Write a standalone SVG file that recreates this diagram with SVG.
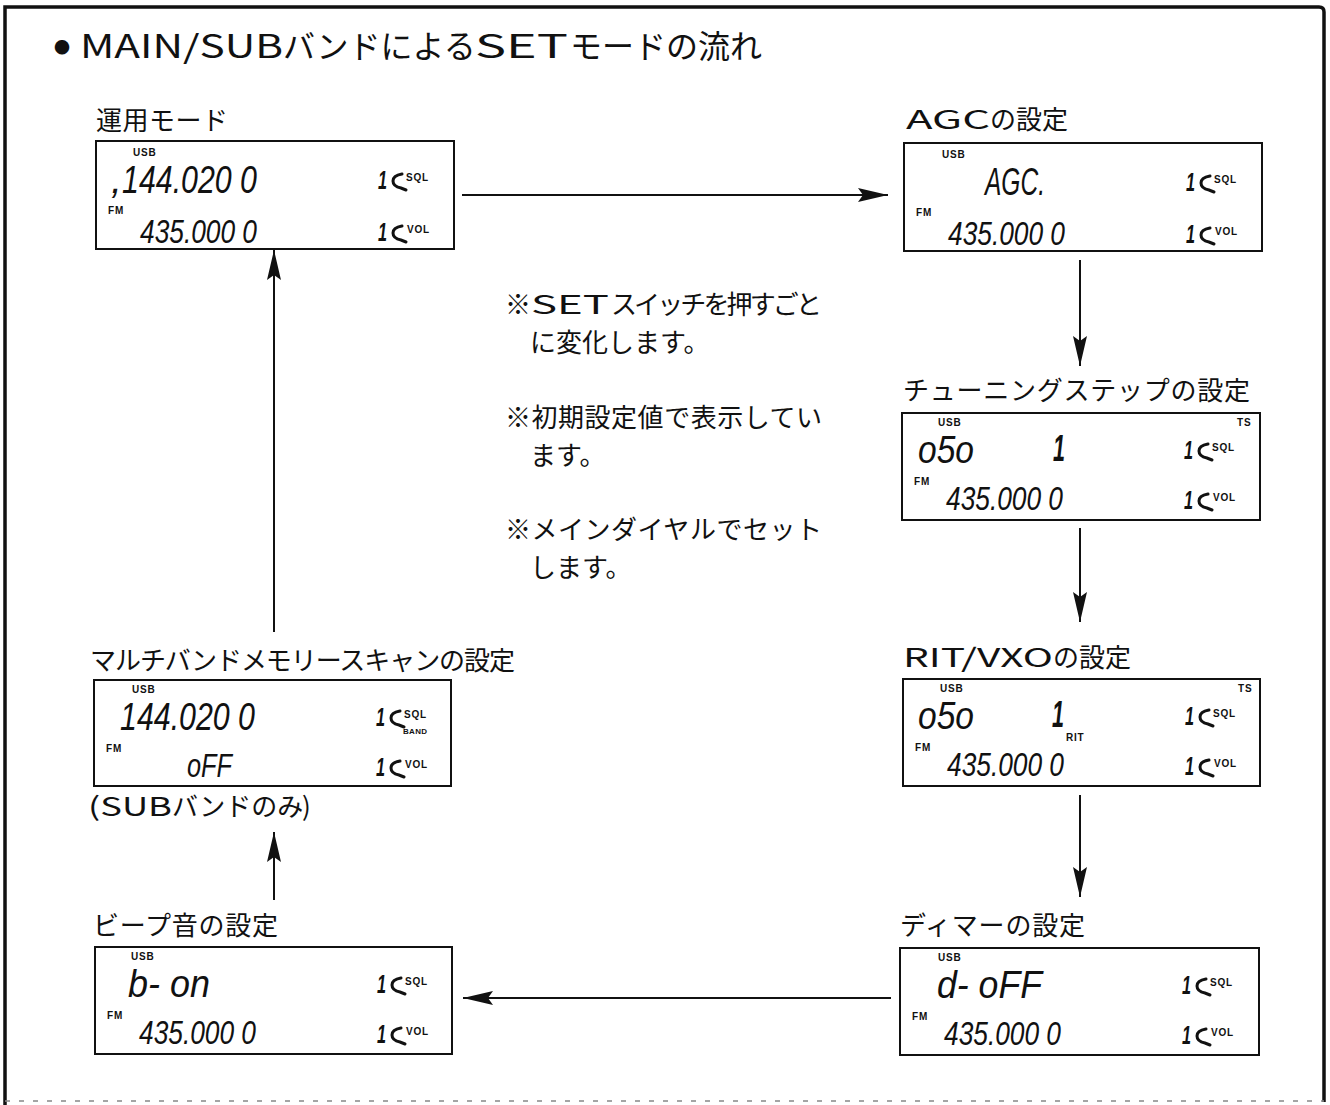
<svg xmlns="http://www.w3.org/2000/svg" width="1330" height="1105" viewBox="0 0 1330 1105">
<style>
.lbl{font-family:"Noto Sans CJK JP","Noto Sans",sans-serif;font-size:26px;fill:#111}
.ttl{font-family:"Noto Sans CJK JP","Noto Sans",sans-serif;font-size:32px;fill:#111}
.note{font-family:"Noto Sans CJK JP","Noto Sans",sans-serif;font-size:26px;fill:#111}
.seg{font-family:"Liberation Sans",Arial,sans-serif;font-style:italic;fill:#111}
.big{font-size:39px}
.mid{font-size:33px}
.one{font-size:25px;font-weight:bold}
.bone{font-size:36px;font-weight:bold}
.ind{font-family:"Liberation Sans",Arial,sans-serif;font-weight:bold;font-size:10px;letter-spacing:0.8px;fill:#111}
.lcd{fill:#fff;stroke:#111;stroke-width:2}
.knob{fill:none;stroke:#111;stroke-width:3;stroke-linecap:round}
.conn line{stroke:#111;stroke-width:2}
.frame{fill:none;stroke:#111;stroke-width:3.5}
</style>
<defs>
<marker id="ah" markerUnits="userSpaceOnUse" markerWidth="32" markerHeight="16" refX="30" refY="7" orient="auto">
<path d="M0,0 L30,7 L0,14 L5,7 Z" fill="#111"/>
</marker>
<path id="kn" class="knob" d="M306,33 C300,34 297,37 297,40 C297,44 300,46 305,47 L310,49"/>
</defs>
<rect width="1330" height="1105" fill="#fff"/>
<path class="frame" d="M5,1105 L5,7 L1319,7 Q1324,7 1324,12 L1324,1102"/>
<line x1="5" y1="1101" x2="1324" y2="1101" stroke="#888" stroke-width="1.5" stroke-dasharray="5 9"/>

<g id="title">
<text class="ttl" x="62" y="53" text-anchor="middle" style="font-size:16px">●</text>
<text class="ttl" x="80" y="58"><tspan textLength="203" lengthAdjust="spacingAndGlyphs">MAIN/SUB</tspan><tspan x="283">バンドによる</tspan><tspan x="475" textLength="93" lengthAdjust="spacingAndGlyphs">SET</tspan><tspan x="570">モードの流れ</tspan></text>
</g>

<g id="notes">
<text class="note" x="505" y="314">※<tspan x="531" textLength="78" lengthAdjust="spacingAndGlyphs">SET</tspan><tspan x="611" textLength="211">スイッチを押すごと</tspan></text>
<text class="note" x="530" y="352">に変化します。</text>
<text class="note" x="505" y="427" textLength="317">※初期設定値で表示してい</text>
<text class="note" x="530" y="465">ます。</text>
<text class="note" x="505" y="539" textLength="317">※メインダイヤルでセット</text>
<text class="note" x="530" y="577">します。</text>
</g>

<g id="node-operate">
<text class="lbl" x="96" y="130" textLength="132">運用モード</text>
<g transform="translate(96,141)">
<rect class="lcd" width="358" height="108"/>
<text class="ind" x="37" y="15">USB</text>
<text class="seg big" x="15" y="52">,</text>
<text class="seg big" x="26" y="52" textLength="135" lengthAdjust="spacingAndGlyphs">144.020 0</text>
<text class="seg one" x="282" y="48" textLength="9" lengthAdjust="spacingAndGlyphs">1</text>
<use href="#kn"/>
<text class="ind" x="310" y="40">SQL</text>
<text class="ind" x="12" y="73">FM</text>
<text class="seg mid" x="44" y="102" textLength="117" lengthAdjust="spacingAndGlyphs">435.000 0</text>
<text class="seg one" x="282" y="100" textLength="9" lengthAdjust="spacingAndGlyphs">1</text>
<use href="#kn" transform="translate(0,52)"/>
<text class="ind" x="311" y="92">VOL</text>
</g>
</g>

<g id="node-agc">
<text class="lbl" x="906" y="129"><tspan textLength="84" lengthAdjust="spacingAndGlyphs">AGC</tspan><tspan x="990">の設定</tspan></text>
<g transform="translate(904,143)">
<rect class="lcd" width="358" height="108"/>
<text class="ind" x="38" y="15">USB</text>
<text class="seg big" x="81" y="52" textLength="60" lengthAdjust="spacingAndGlyphs">AGC.</text>
<text class="seg one" x="282" y="48" textLength="9" lengthAdjust="spacingAndGlyphs">1</text>
<use href="#kn"/>
<text class="ind" x="310" y="40">SQL</text>
<text class="ind" x="12" y="73">FM</text>
<text class="seg mid" x="44" y="102" textLength="117" lengthAdjust="spacingAndGlyphs">435.000 0</text>
<text class="seg one" x="282" y="100" textLength="9" lengthAdjust="spacingAndGlyphs">1</text>
<use href="#kn" transform="translate(0,52)"/>
<text class="ind" x="311" y="92">VOL</text>
</g>
</g>

<g id="node-ts">
<text class="lbl" x="903" y="400" textLength="347">チューニングステップの設定</text>
<g transform="translate(902,413)">
<rect class="lcd" width="358" height="107"/>
<text class="ind" x="36" y="13">USB</text>
<text class="ind" x="335" y="13">TS</text>
<text class="seg big" x="16" y="50" textLength="56" lengthAdjust="spacingAndGlyphs">o5o</text>
<text class="seg bone" x="151" y="48" textLength="12" lengthAdjust="spacingAndGlyphs">1</text>
<text class="seg one" x="282" y="46" textLength="9" lengthAdjust="spacingAndGlyphs">1</text>
<use href="#kn" transform="translate(0,-2)"/>
<text class="ind" x="310" y="38">SQL</text>
<text class="ind" x="12" y="72">FM</text>
<text class="seg mid" x="44" y="97" textLength="117" lengthAdjust="spacingAndGlyphs">435.000 0</text>
<text class="seg one" x="282" y="96" textLength="9" lengthAdjust="spacingAndGlyphs">1</text>
<use href="#kn" transform="translate(0,48)"/>
<text class="ind" x="311" y="88">VOL</text>
</g>
</g>

<g id="node-rit">
<text class="lbl" x="903" y="667"><tspan textLength="150" lengthAdjust="spacingAndGlyphs">RIT/VXO</tspan><tspan x="1053">の設定</tspan></text>
<g transform="translate(903,679)">
<rect class="lcd" width="357" height="107"/>
<text class="ind" x="37" y="13">USB</text>
<text class="ind" x="335" y="13">TS</text>
<text class="seg big" x="15" y="50" textLength="56" lengthAdjust="spacingAndGlyphs">o5o</text>
<text class="seg bone" x="149" y="48" textLength="12" lengthAdjust="spacingAndGlyphs">1</text>
<text class="ind" x="163" y="62">RIT</text>
<text class="seg one" x="282" y="46" textLength="9" lengthAdjust="spacingAndGlyphs">1</text>
<use href="#kn" transform="translate(0,-2)"/>
<text class="ind" x="310" y="38">SQL</text>
<text class="ind" x="12" y="72">FM</text>
<text class="seg mid" x="44" y="97" textLength="117" lengthAdjust="spacingAndGlyphs">435.000 0</text>
<text class="seg one" x="282" y="96" textLength="9" lengthAdjust="spacingAndGlyphs">1</text>
<use href="#kn" transform="translate(0,48)"/>
<text class="ind" x="311" y="88">VOL</text>
</g>
</g>

<g id="node-dimmer">
<text class="lbl" x="900" y="935" textLength="185">ディマーの設定</text>
<g transform="translate(900,948)">
<rect class="lcd" width="359" height="107"/>
<text class="ind" x="38" y="13">USB</text>
<text class="seg big" x="37" y="50" textLength="105" lengthAdjust="spacingAndGlyphs">d- oFF</text>
<text class="seg one" x="282" y="46" textLength="9" lengthAdjust="spacingAndGlyphs">1</text>
<use href="#kn" transform="translate(0,-2)"/>
<text class="ind" x="310" y="38">SQL</text>
<text class="ind" x="12" y="72">FM</text>
<text class="seg mid" x="44" y="97" textLength="117" lengthAdjust="spacingAndGlyphs">435.000 0</text>
<text class="seg one" x="282" y="96" textLength="9" lengthAdjust="spacingAndGlyphs">1</text>
<use href="#kn" transform="translate(0,48)"/>
<text class="ind" x="311" y="88">VOL</text>
</g>
</g>

<g id="node-beep">
<text class="lbl" x="93" y="935" textLength="185">ビープ音の設定</text>
<g transform="translate(95,947)">
<rect class="lcd" width="357" height="107"/>
<text class="ind" x="36" y="13">USB</text>
<text class="seg big" x="33" y="50" textLength="82" lengthAdjust="spacingAndGlyphs">b- on</text>
<text class="seg one" x="282" y="46" textLength="9" lengthAdjust="spacingAndGlyphs">1</text>
<use href="#kn" transform="translate(0,-2)"/>
<text class="ind" x="310" y="38">SQL</text>
<text class="ind" x="12" y="72">FM</text>
<text class="seg mid" x="44" y="97" textLength="117" lengthAdjust="spacingAndGlyphs">435.000 0</text>
<text class="seg one" x="282" y="96" textLength="9" lengthAdjust="spacingAndGlyphs">1</text>
<use href="#kn" transform="translate(0,48)"/>
<text class="ind" x="311" y="88">VOL</text>
</g>
</g>

<g id="node-multiband">
<text class="lbl" x="90" y="670" textLength="425">マルチバンドメモリースキャンの設定</text>
<g transform="translate(94,680)">
<rect class="lcd" width="357" height="106"/>
<text class="ind" x="38" y="13">USB</text>
<text class="seg big" x="26" y="50" textLength="135" lengthAdjust="spacingAndGlyphs">144.020 0</text>
<text class="seg one" x="282" y="46" textLength="9" lengthAdjust="spacingAndGlyphs">1</text>
<use href="#kn" transform="translate(0,-2)"/>
<text class="ind" x="310" y="38">SQL</text>
<text class="ind" x="309" y="54" style="font-size:8px;letter-spacing:0.3px">BAND</text>
<text class="ind" x="12" y="72">FM</text>
<text class="seg mid" x="93" y="97" textLength="45" lengthAdjust="spacingAndGlyphs">oFF</text>
<text class="seg one" x="282" y="96" textLength="9" lengthAdjust="spacingAndGlyphs">1</text>
<use href="#kn" transform="translate(0,48)"/>
<text class="ind" x="311" y="88">VOL</text>
</g>
<text class="lbl" x="88" y="816"><tspan textLength="84" lengthAdjust="spacingAndGlyphs">(SUB</tspan><tspan x="172">バンドのみ</tspan><tspan x="302">)</tspan></text>
</g>

<g id="connectors" class="conn">
<line x1="462" y1="195" x2="888" y2="195" marker-end="url(#ah)"/>
<line x1="1080" y1="260" x2="1080" y2="366" marker-end="url(#ah)"/>
<line x1="1080" y1="528" x2="1080" y2="622" marker-end="url(#ah)"/>
<line x1="1080" y1="795" x2="1080" y2="897" marker-end="url(#ah)"/>
<line x1="891" y1="998" x2="463" y2="998" marker-end="url(#ah)"/>
<line x1="274" y1="900" x2="274" y2="832" marker-end="url(#ah)"/>
<line x1="274" y1="632" x2="274" y2="250" marker-end="url(#ah)"/>
</g>
</svg>
